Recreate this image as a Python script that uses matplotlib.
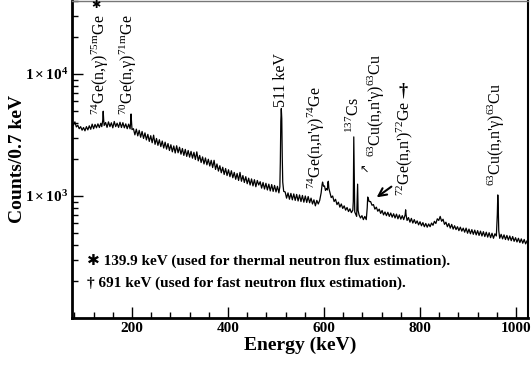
import numpy as np
import matplotlib
matplotlib.use("Agg")
import matplotlib.pyplot as plt
from matplotlib.ticker import FixedLocator, LogLocator, NullFormatter, FuncFormatter, MultipleLocator

plt.rcParams['font.family'] = ['Liberation Serif', 'DejaVu Sans']
plt.rcParams['mathtext.fontset'] = 'custom'
plt.rcParams['mathtext.rm'] = 'Liberation Serif'
plt.rcParams['mathtext.it'] = 'Liberation Serif:italic'
plt.rcParams['mathtext.bf'] = 'Liberation Serif:bold'

# ---- data (energy in keV, counts per 0.7 keV) ----
energy_keV = [
    75, 78, 81, 84, 87, 90, 93, 96, 99, 102,
    105, 108, 111, 114, 117, 120, 123, 126, 129, 132,
    135, 137, 139, 140, 141, 142, 145, 148, 151, 154,
    157, 160, 163, 166, 169, 172, 175, 178, 181, 184,
    187, 190, 193, 196, 197, 198, 199, 200, 203, 206,
    209, 212, 215, 218, 221, 224, 227, 230, 233, 236,
    239, 242, 245, 248, 251, 254, 257, 260, 263, 266,
    269, 272, 275, 278, 281, 284, 287, 290, 293, 296,
    299, 302, 305, 308, 311, 314, 317, 320, 323, 326,
    329, 332, 335, 338, 341, 344, 347, 350, 353, 356,
    359, 362, 365, 368, 371, 374, 377, 380, 383, 386,
    389, 392, 395, 398, 401, 404, 407, 410, 413, 416,
    419, 422, 425, 428, 431, 434, 437, 440, 443, 446,
    449, 452, 455, 458, 461, 464, 467, 470, 473, 476,
    479, 482, 485, 488, 491, 494, 497, 500, 503, 506,
    508, 509, 510, 511, 512, 513, 514, 516, 519, 522,
    525, 528, 531, 534, 537, 540, 543, 546, 549, 552,
    555, 558, 561, 564, 567, 570, 573, 576, 579, 582,
    585, 588, 591, 594, 596, 597, 599, 601, 603, 605,
    607, 608, 609, 610, 612, 615, 618, 621, 624, 627,
    630, 633, 636, 639, 642, 645, 648, 651, 654, 657,
    660, 661, 662, 663, 664, 666, 668, 669, 670, 671,
    673, 676, 679, 682, 685, 688, 690, 691, 692, 694,
    697, 700, 703, 706, 709, 712, 715, 718, 721, 724,
    727, 730, 733, 736, 739, 742, 745, 748, 751, 754,
    757, 760, 763, 766, 769, 770, 771, 773, 776, 779,
    782, 785, 788, 791, 794, 797, 800, 803, 806, 809,
    812, 815, 818, 821, 824, 827, 830, 833, 836, 839,
    842, 845, 848, 851, 854, 857, 860, 863, 866, 869,
    872, 875, 878, 881, 884, 887, 890, 893, 896, 899,
    902, 905, 908, 911, 914, 917, 920, 923, 926, 929,
    932, 935, 938, 941, 944, 947, 950, 953, 956, 959,
    961, 962, 963, 964, 966, 969, 972, 975, 978, 981,
    984, 987, 990, 993, 996, 999, 1002, 1005, 1008, 1011,
    1014, 1017, 1020, 1023, 1026,
]
counts = [
    4100, 3800, 4050, 3680, 3800, 3560, 3700, 3460, 3640, 3420,
    3700, 3480, 3760, 3520, 3880, 3560, 3860, 3620, 3900, 3640,
    3940, 3700, 4150, 4950, 4200, 3780, 4000, 3650, 4050, 3700,
    3980, 3620, 4080, 3700, 3950, 3650, 4020, 3640, 3990, 3620,
    3900, 3560, 3880, 3550, 3950, 4700, 3980, 3500, 3560, 3170,
    3530, 3110, 3450, 3030, 3380, 2960, 3290, 2880, 3200, 2800,
    3120, 2730, 3150, 2650, 2960, 2600, 2890, 2540, 2820, 2470,
    2760, 2420, 2690, 2360, 2630, 2300, 2570, 2250, 2580, 2260,
    2510, 2200, 2450, 2150, 2410, 2110, 2360, 2080, 2320, 2040,
    2280, 1990, 2300, 1940, 2150, 1880, 2090, 1830, 2050, 1800,
    2000, 1760, 1960, 1710, 1960, 1650, 1830, 1600, 1770, 1550,
    1720, 1500, 1680, 1470, 1640, 1440, 1610, 1410, 1560, 1370,
    1530, 1340, 1560, 1320, 1470, 1290, 1440, 1260, 1400, 1230,
    1380, 1210, 1360, 1190, 1340, 1230, 1310, 1160, 1290, 1140,
    1270, 1120, 1250, 1100, 1240, 1090, 1220, 1080, 1200, 1060,
    1190, 1900, 4100, 5200, 4300, 2100, 1300, 1090, 1080, 960,
    1060, 940, 1050, 930, 1040, 920, 1030, 910, 1020, 900,
    1010, 890, 1000, 885, 990, 880, 960, 860, 930, 830,
    920, 860, 920, 1060, 1240, 1300, 1200, 1210, 1110, 1150,
    1120, 1290, 1320, 1160, 1080, 970, 1000, 900, 940, 850,
    890, 810, 860, 790, 830, 765, 805, 745, 785, 730,
    765, 900, 3050, 1500, 740, 710, 680, 900, 1250, 760,
    700, 660, 690, 640, 680, 640, 800, 980, 960, 900,
    900, 840, 850, 780, 810, 750, 780, 720, 760, 700,
    740, 690, 735, 680, 725, 670, 715, 660, 710, 650,
    700, 645, 690, 640, 700, 770, 700, 630, 665, 610,
    655, 600, 640, 595, 625, 580, 615, 570, 605, 560,
    595, 555, 590, 560, 600, 575, 620, 595, 650, 630,
    680, 620, 645, 585, 610, 560, 595, 545, 585, 535,
    570, 530, 560, 520, 555, 515, 545, 505, 545, 495,
    535, 490, 530, 485, 525, 480, 520, 475, 515, 470,
    510, 465, 505, 460, 500, 455, 495, 450, 490, 470,
    700, 1020, 800, 520, 450, 485, 445, 480, 440, 475,
    435, 470, 430, 465, 425, 455, 420, 450, 415, 445,
    410, 440, 405, 430, 415,
]
assert len(energy_keV) == len(counts)

x_ticks = [200, 400, 600, 800, 1000]
y_major = [1e3, 1e4]

fig = plt.figure(figsize=(5.31, 3.65), dpi=100)
ax = fig.add_axes([0.1356, 0.1288, 0.8588, 0.8698])
ax.plot(energy_keV, counts, color='black', lw=0.9)

ax.set_yscale('log')
ax.set_xlim(75, 1025)
ax.set_ylim(100, 40000)

ax.xaxis.set_major_locator(FixedLocator(x_ticks))
ax.xaxis.set_minor_locator(MultipleLocator(40))
ax.yaxis.set_major_locator(FixedLocator(y_major))
ax.yaxis.set_minor_locator(LogLocator(base=10, subs=np.arange(2, 10)))
ax.yaxis.set_minor_formatter(NullFormatter())
ax.yaxis.set_major_formatter(FuncFormatter(
    lambda v, p: r'$\mathbf{1\times10^{%d}}$' % int(round(np.log10(v)))))

ax.tick_params(which='both', direction='in', top=False, right=False, width=1)
ax.tick_params(which='major', length=8, labelsize=11, pad=3)
ax.tick_params(which='minor', length=4)
for lab in ax.get_xticklabels():
    lab.set_fontweight('bold')

for side in ['left', 'bottom']:
    ax.spines[side].set_linewidth(2)
ax.spines['right'].set_linewidth(1.5)
ax.spines['top'].set_linewidth(1)
ax.spines['top'].set_color('#777777')

ax.set_xlabel('Energy (keV)', fontsize=14, fontweight='bold', labelpad=1)
ax.set_ylabel('Counts/0.7 keV', fontsize=14, fontweight='bold')
ax.yaxis.set_label_coords(-0.100, 0.50)

fs = 11.5
labels = [
    (134, 4640, r"$^{74}$Ge(n,γ)$^{\mathrm{75m}}$Ge"),
    (192, 4640, r"$^{70}$Ge(n,γ)$^{\mathrm{71m}}$Ge"),
    (510, 5390, "511 keV"),
    (583, 1140, r"$^{74}$Ge(n,n'γ)$^{74}$Ge"),
    (664, 3310, r"$^{137}$Cs"),
    (710, 2075, r"$^{63}$Cu(n,n'γ)$^{63}$Cu"),
    (768, 1000, r"$^{72}$Ge(n,n')$^{72}$Ge"),
    (959, 1206, r"$^{63}$Cu(n,n'γ)$^{63}$Cu"),
]
label_artists = []
for ex, cy, txt in labels:
    label_artists.append(
        ax.text(ex, cy, txt, rotation=90, ha='center', va='bottom', fontsize=fs))

ax.text(126, 36800, '✱', ha='center', va='center', fontsize=8,
        family=['DejaVu Sans'])
ax.annotate('†', xy=(0.4, 1.0), xycoords=label_artists[6], xytext=(0, 1),
            textcoords='offset points', ha='center', va='bottom', fontsize=13,
            fontweight='bold')
ax.text(683, 1597, '↖', ha='center', va='center', fontsize=8, family=['DejaVu Sans'])
ax.annotate('', xy=(705, 945), xytext=(745, 1230),
            arrowprops=dict(arrowstyle='->', lw=1.5, color='black',
                            mutation_scale=14))

ax.text(0.033, 0.176, '✱ 139.9 keV (used for thermal neutron flux estimation).',
        transform=ax.transAxes, fontsize=11, fontweight='bold', va='center',
        family=['Liberation Serif', 'DejaVu Sans'])
ax.text(0.033, 0.110, '† 691 keV (used for fast neutron flux estimation).',
        transform=ax.transAxes, fontsize=11, fontweight='bold', va='center',
        family=['Liberation Serif', 'DejaVu Sans'])

fig.savefig('out.png', dpi=100)
